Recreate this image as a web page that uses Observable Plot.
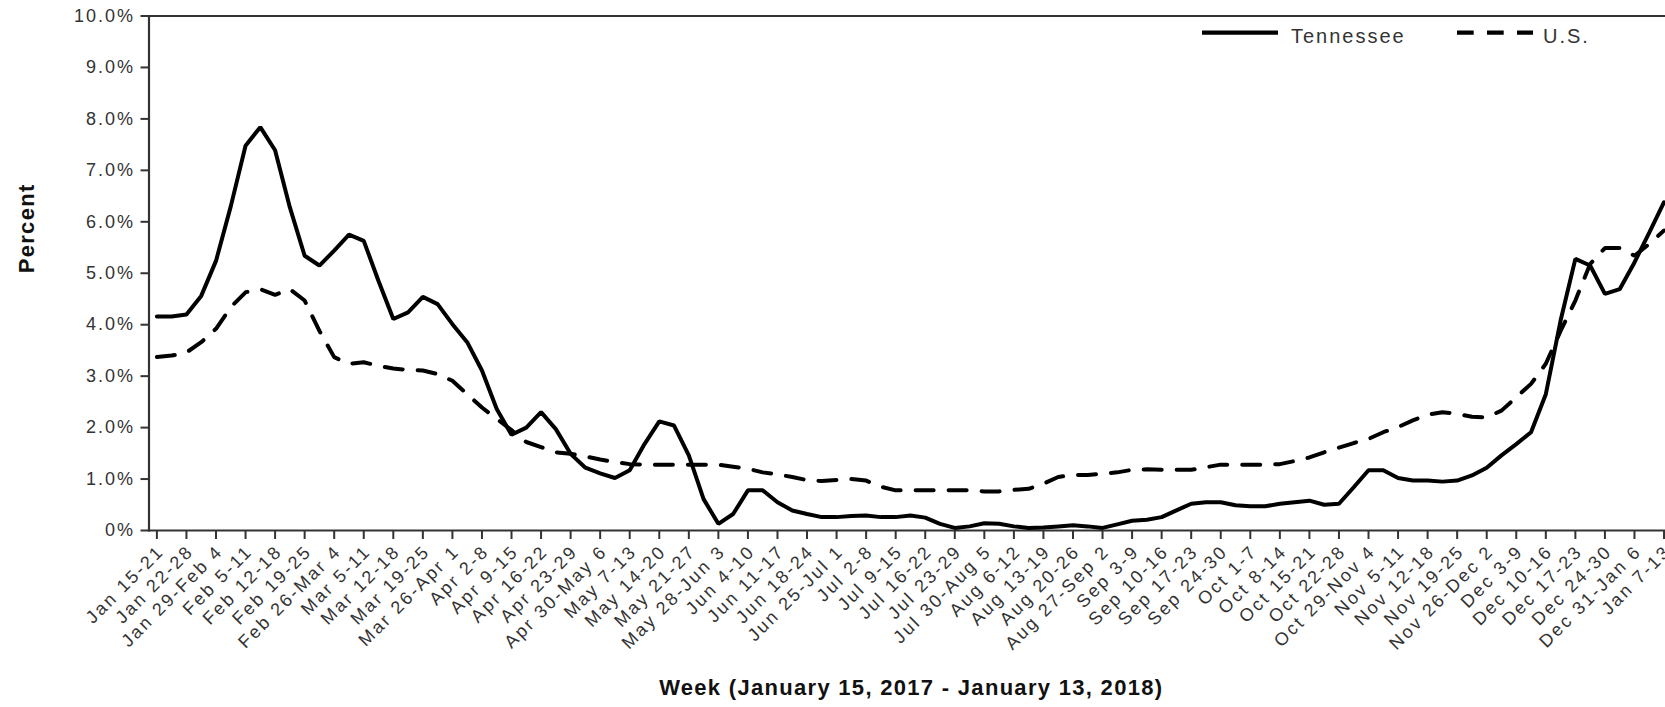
<!DOCTYPE html>
<html><head><meta charset="utf-8">
<script src="https://cdn.jsdelivr.net/npm/d3@7"></script>
<script src="https://cdn.jsdelivr.net/npm/@observablehq/plot@0.6"></script>
<style>
html,body{margin:0;padding:0;background:#fff;overflow:hidden;}
#wrap{position:relative;width:1665px;height:707px;}
#wrap svg text{letter-spacing:2px;}
#wrap svg .wk text{letter-spacing:2.4px;}
#wrap svg .ttl text{letter-spacing:1.3px;}
#legend{position:absolute;left:0;top:0;pointer-events:none;}
#legend text{font-family:'Liberation Sans',Arial,sans-serif;font-size:20px;letter-spacing:1px;fill:#333;}
</style></head><body><div id="wrap"></div>
<script>
// Week labels (one tick per week)
const weeks = ["Jan 15-21","Jan 22-28","Jan 29-Feb 4","Feb 5-11","Feb 12-18","Feb 19-25","Feb 26-Mar 4","Mar 5-11","Mar 12-18","Mar 19-25",
"Mar 26-Apr 1","Apr 2-8","Apr 9-15","Apr 16-22","Apr 23-29","Apr 30-May 6","May 7-13","May 14-20","May 21-27","May 28-Jun 3",
"Jun 4-10","Jun 11-17","Jun 18-24","Jun 25-Jul 1","Jul 2-8","Jul 9-15","Jul 16-22","Jul 23-29","Jul 30-Aug 5","Aug 6-12",
"Aug 13-19","Aug 20-26","Aug 27-Sep 2","Sep 3-9","Sep 10-16","Sep 17-23","Sep 24-30","Oct 1-7","Oct 8-14","Oct 15-21",
"Oct 22-28","Oct 29-Nov 4","Nov 5-11","Nov 12-18","Nov 19-25","Nov 26-Dec 2","Dec 3-9","Dec 10-16","Dec 17-23","Dec 24-30",
"Dec 31-Jan 6","Jan 7-13"];

// Line vertices, two per week step (half-week spacing)
const tennessee = [
4.16,4.16,4.20,4.56,5.24,6.30,7.48,7.84,7.39,6.28,
5.34,5.15,5.44,5.75,5.63,4.85,4.11,4.24,4.54,4.40,
4.01,3.66,3.11,2.36,1.86,2.00,2.30,1.97,1.49,1.22,
1.11,1.02,1.17,1.68,2.12,2.04,1.46,0.61,0.13,0.32,
0.78,0.78,0.55,0.39,0.32,0.26,0.26,0.28,0.29,0.26,
0.26,0.29,0.25,0.13,0.05,0.08,0.14,0.13,0.08,0.05,
0.06,0.08,0.10,0.08,0.05,0.12,0.19,0.21,0.26,0.39,
0.52,0.55,0.55,0.49,0.47,0.47,0.52,0.55,0.58,0.50,
0.52,0.84,1.17,1.17,1.02,0.97,0.97,0.95,0.97,1.07,
1.22,1.46,1.68,1.91,2.65,4.08,5.28,5.15,4.60,4.69,
5.21,5.79,6.38];
const us = [
3.37,3.40,3.46,3.66,3.92,4.34,4.63,4.69,4.58,4.69,
4.47,3.88,3.37,3.24,3.27,3.20,3.15,3.12,3.11,3.04,
2.91,2.65,2.39,2.17,1.95,1.72,1.62,1.52,1.49,1.44,
1.38,1.33,1.29,1.28,1.28,1.28,1.28,1.28,1.28,1.24,
1.20,1.13,1.09,1.04,0.98,0.96,0.98,1.00,0.97,0.85,
0.78,0.78,0.78,0.78,0.78,0.78,0.76,0.76,0.79,0.81,
0.91,1.04,1.08,1.08,1.10,1.13,1.18,1.19,1.18,1.18,
1.18,1.23,1.28,1.28,1.28,1.28,1.29,1.35,1.42,1.52,
1.61,1.70,1.78,1.91,2.01,2.14,2.25,2.30,2.27,2.21,
2.20,2.33,2.59,2.85,3.24,3.88,4.47,5.18,5.49,5.49,
5.34,5.57,5.83];

const yTicks = [0,1,2,3,4,5,6,7,8,9,10];
const seriesNames = ["Tennessee","U.S."];
const xTitle = "Week (January 15, 2017 - January 13, 2018)";
const yTitle = "Percent";

const weekIdx = weeks.map((w, i) => i);
const tnRows = tennessee.map((v, k) => ({pos: k / 2, value: v}));
const usRows = us.map((v, k) => ({pos: k / 2, value: v}));

const chart = Plot.plot({
  width: 1665, height: 707,
  marginLeft: 148.5, marginRight: 0, marginTop: 15.5, marginBottom: 177,
  style: {fontFamily: "'Liberation Sans', Arial, sans-serif", fontSize: "18px", color: "#333", background: "#fff", overflow: "visible"},
  x: {domain: [-0.267, 51.05], axis: null, label: null},
  y: {domain: [0, 10], axis: null, label: null},
  marks: [
    Plot.frame({anchor: "top", stroke: "#333", strokeWidth: 1.8}),
    Plot.frame({anchor: "left", stroke: "#333", strokeWidth: 2.2}),
    Plot.frame({anchor: "bottom", stroke: "#333", strokeWidth: 2}),
    Plot.axisY(yTicks, {tickSize: 8, tickPadding: 6, strokeWidth: 2, fontSize: 18, label: null,
      tickFormat: d => d === 0 ? "0%" : d.toFixed(1) + "%"}),
    Plot.axisX(weekIdx, {tickSize: 9, strokeWidth: 2, fill: "none", label: null}),
    Plot.text(weekIdx, {x: d => d, y: () => 0, text: i => weeks[i], rotate: -45,
      textAnchor: "end", lineAnchor: "middle", dx: 4, dy: 18, fontSize: 18, fill: "#333", className: "wk"}),
    Plot.line(usRows, {x: "pos", y: "value", stroke: "#000", strokeWidth: 4, strokeDasharray: "18,15", strokeLinejoin: "miter"}),
    Plot.line(tnRows, {x: "pos", y: "value", stroke: "#000", strokeWidth: 4, strokeLinejoin: "miter"}),
    Plot.text([xTitle], {frameAnchor: "bottom", dx: 4, dy: 157, fontSize: 22, fontWeight: "bold", fill: "#111", lineAnchor: "middle", className: "ttl"}),
    Plot.text([yTitle], {frameAnchor: "left", dx: -122, rotate: -90, fontSize: 22, fontWeight: "bold", fill: "#111", lineAnchor: "middle", className: "ttl"})
  ]
});
const wrap = document.getElementById("wrap");
wrap.appendChild(chart);

// Legend (inside the plot, top right)
const ns = "http://www.w3.org/2000/svg";
const leg = document.createElementNS(ns, "svg");
leg.setAttribute("id", "legend");
leg.setAttribute("width", 1665);
leg.setAttribute("height", 60);
const items = [
  {name: seriesNames[0], x: 1202, dash: null},
  {name: seriesNames[1], x: 1457, dash: "16.7,13.3"}
];
items.forEach(it => {
  const ln = document.createElementNS(ns, "line");
  ln.setAttribute("x1", it.x); ln.setAttribute("x2", it.x + 76);
  ln.setAttribute("y1", 32.7); ln.setAttribute("y2", 32.7);
  ln.setAttribute("stroke", "#000"); ln.setAttribute("stroke-width", 4.3);
  if (it.dash) ln.setAttribute("stroke-dasharray", it.dash);
  leg.appendChild(ln);
  const tx = document.createElementNS(ns, "text");
  tx.setAttribute("x", it.x + 76 + (it.dash ? 10 : 13));
  tx.setAttribute("y", 42.5);
  tx.textContent = it.name;
  leg.appendChild(tx);
});
wrap.appendChild(leg);
</script>
</body></html>
